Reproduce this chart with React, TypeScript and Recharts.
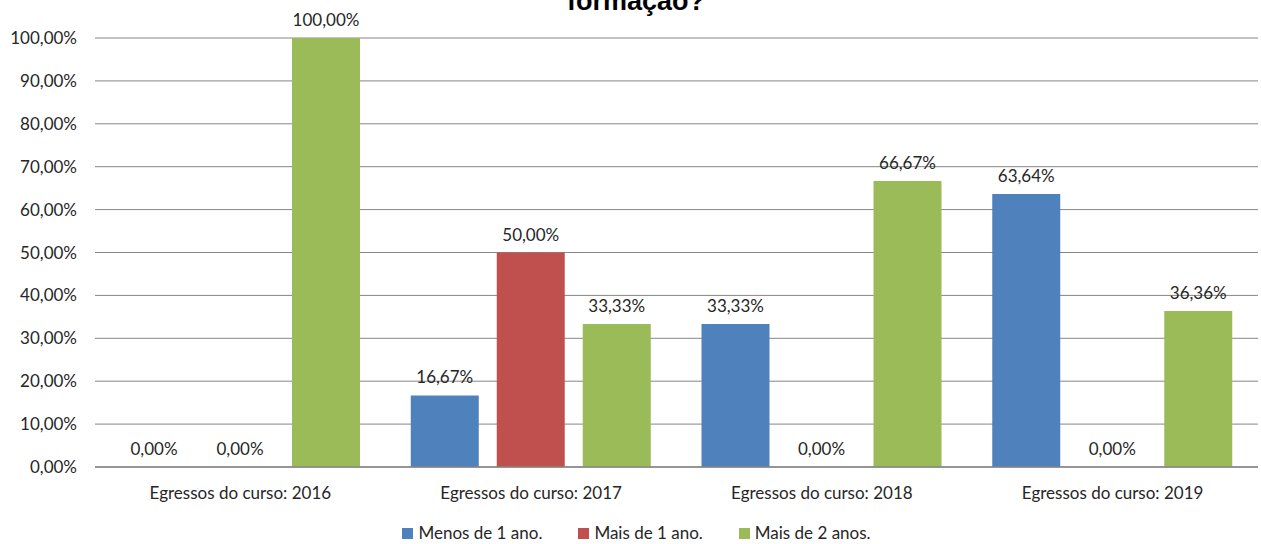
import React from "react";
import { BarChart, Bar, XAxis, YAxis, CartesianGrid, LabelList } from "recharts";

const categories = [
  "Egressos do curso: 2016",
  "Egressos do curso: 2017",
  "Egressos do curso: 2018",
  "Egressos do curso: 2019",
];
const menosDe1Ano = [0, 16.67, 33.33, 63.64];
const maisDe1Ano = [0, 50.0, 0, 0];
const maisDe2Anos = [100.0, 33.33, 66.67, 36.36];
const yTicks = [0, 10, 20, 30, 40, 50, 60, 70, 80, 90, 100];
const seriesNames = ["Menos de 1 ano.", "Mais de 1 ano.", "Mais de 2 anos."];
const seriesColors = ["#4F81BD", "#C0504D", "#9BBB59"];
const titleText = "formação?";

const data = categories.map((c, i) => ({
  name: c,
  s0: menosDe1Ano[i],
  s1: maisDe1Ano[i],
  s2: maisDe2Anos[i],
}));

const fmt = (v: any) => `${Number(v).toFixed(2).replace(".", ",")}%`;
const FONT = "Lato, 'Open Sans', sans-serif";
const TXT = "#262626";

export default function App() {
  return (
    <div
      style={{
        position: "absolute",
        left: 0,
        top: 0,
        width: 1261,
        height: 544,
        background: "#fff",
        fontFamily: FONT,
        overflow: "hidden",
      }}
    >
      <svg
        width={1261}
        height={40}
        style={{ position: "absolute", left: 0, top: 0 }}
      >
        <text
          x={636}
          y={10}
          textAnchor="middle"
          fontFamily="'Liberation Sans', Arial, sans-serif"
          fontWeight="bold"
          fontSize={27}
          fill="#000"
        >
          {titleText}
        </text>
      </svg>
      <BarChart
        width={1261}
        height={544}
        data={data}
        margin={{ top: 38, right: 3, bottom: 0, left: 0 }}
        barSize={68}
        barGap={18}
      >
        <CartesianGrid
          vertical={false}
          stroke="#868686"
          strokeWidth={1}
        />
        <XAxis
          dataKey="name"
          height={77}
          tickLine={false}
          axisLine={{ stroke: "#868686", strokeWidth: 1.5 }}
          tickSize={0}
          tickMargin={20}
          tick={{ fill: TXT, fontSize: 17, fontFamily: FONT }}
          interval={0}
        />
        <YAxis
          width={95}
          domain={[0, 100]}
          ticks={yTicks}
          tickFormatter={fmt}
          axisLine={false}
          tickLine={false}
          tickSize={0}
          tickMargin={18}
          tick={{ fill: TXT, fontSize: 17, fontFamily: FONT }}
          interval={0}
        />
        {["s0", "s1", "s2"].map((k, i) => (
          <Bar
            key={k}
            dataKey={k}
            name={seriesNames[i]}
            fill={seriesColors[i]}
            minPointSize={0.01}
            isAnimationActive={false}
          >
            <LabelList
              dataKey={k}
              position="top"
              offset={12}
              formatter={fmt}
              fill={TXT}
              fontSize={17}
              fontFamily={FONT}
            />
          </Bar>
        ))}
      </BarChart>
      <div
        style={{
          position: "absolute",
          left: 0,
          top: 523,
          width: 1261,
          display: "flex",
          justifyContent: "center",
          fontSize: 17,
          color: TXT,
          fontFamily: FONT,
          lineHeight: "20px",
          paddingLeft: 12,
          boxSizing: "border-box",
        }}
      >
        {seriesNames.map((n, i) => (
          <div
            key={n}
            style={{
              display: "flex",
              alignItems: "center",
              marginRight: i < seriesNames.length - 1 ? 36 : 0,
            }}
          >
            <span
              style={{
                display: "inline-block",
                width: 11,
                height: 11,
                background: seriesColors[i],
                marginRight: 5,
              }}
            />
            <span>{n}</span>
          </div>
        ))}
      </div>
    </div>
  );
}
